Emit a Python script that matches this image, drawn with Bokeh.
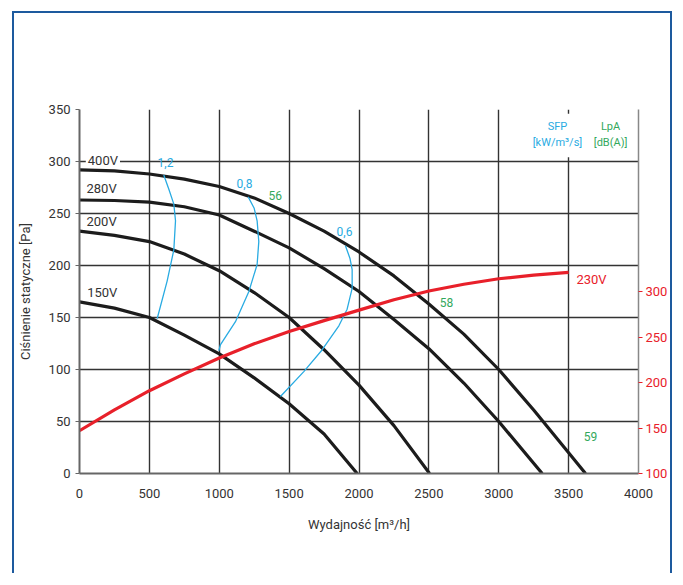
from bokeh.plotting import figure
from bokeh.models import Range1d, LinearAxis, FixedTicker, Label
from bokeh.embed import file_html
from bokeh.resources import INLINE

# ---- data ----
flow_400 = [0, 250, 500, 750, 1000, 1250, 1500, 1750, 2000, 2250, 2500, 2750, 3000, 3250, 3500, 3621]
pres_400 = [292, 291, 288, 283, 276, 265, 250, 233, 213, 190, 163, 134, 100, 61, 20, 0]

flow_280 = [0, 250, 500, 750, 1000, 1250, 1500, 1750, 2000, 2250, 2500, 2750, 3000, 3311]
pres_280 = [263, 262.5, 261, 256.5, 248.5, 233, 217, 197, 175, 148, 120, 87, 50, 0]

flow_200 = [0, 250, 500, 750, 1000, 1250, 1500, 1750, 2000, 2250, 2505]
pres_200 = [233, 229, 223, 211, 195, 174, 150, 119, 85, 46, 0]

flow_150 = [0, 250, 500, 750, 1000, 1250, 1500, 1750, 1987]
pres_150 = [165, 159, 150, 133, 115, 92, 67, 38, 0]

flow_230 = [0, 250, 500, 750, 1000, 1250, 1500, 1750, 2000, 2250, 2500, 2750, 3000, 3250, 3500]
power_230 = [147, 170, 191, 209.5, 227, 242.5, 256, 268, 279.5, 291, 300.5, 308, 314, 318, 321]

sfp12_x = [603, 640, 675, 687, 675, 627, 556]
sfp12_y = [287, 273, 259, 243, 215, 185, 149]
sfp08_x = [1207, 1250, 1271, 1283, 1271, 1212, 1116, 1009, 997]
sfp08_y = [266, 255, 243, 223, 201, 175, 146, 124, 118]
sfp06_x = [1903, 1935, 1951, 1951, 1915, 1856, 1737, 1605, 1438]
sfp06_y = [219, 207, 196, 178, 158, 142, 119, 98, 74]

x_ticks = [0, 500, 1000, 1500, 2000, 2500, 3000, 3500, 4000]
y_ticks = [0, 50, 100, 150, 200, 250, 300, 350]
w_ticks = [100, 150, 200, 250, 300]

FONT = "Roboto"
BLACK = "#1c1c1c"
RED = "#e8202a"
BLUE = "#29abe2"
GREEN = "#33a85c"
TXT = "#333333"

p = figure(frame_width=559, frame_height=364,
           x_range=Range1d(0, 4000), y_range=Range1d(0, 350),
           output_backend="svg", toolbar_location=None,
           min_border_left=65, min_border_right=31,
           min_border_top=96, min_border_bottom=100)
p.styles = {"margin-left": "12px", "margin-top": "11px",
            "border-left": "2px solid #1d5a9e", "border-top": "2px solid #1d5a9e",
            "border-right": "2px solid #1d5a9e"}
p.outline_line_color = None
p.extra_y_ranges = {"w": Range1d(100, 500)}

# axes
p.xaxis.ticker = FixedTicker(ticks=x_ticks)
p.yaxis.ticker = FixedTicker(ticks=y_ticks)
for ax in (p.xaxis[0], p.yaxis[0]):
    ax.axis_line_color = "#666666"
    ax.axis_line_width = 2
    ax.major_label_text_font = FONT
    ax.major_label_text_font_size = "13px"
    ax.major_label_text_color = TXT
    ax.axis_label_text_font = FONT
    ax.axis_label_text_font_size = "13px"
    ax.axis_label_text_font_style = "normal"
    ax.axis_label_text_color = TXT
    ax.minor_tick_line_color = None
p.xaxis.major_tick_line_color = None
p.xaxis.major_label_standoff = 9
p.xaxis.axis_label = "Wydajność [m³/h]"
p.xaxis.axis_label_standoff = 16
p.yaxis.major_tick_in = 0
p.yaxis.major_tick_out = 4
p.yaxis.major_tick_line_color = "#666666"
p.yaxis.major_label_standoff = 5
p.yaxis.axis_label = "Ciśnienie statyczne [Pa]"
p.yaxis.axis_label_standoff = 13

raxis = LinearAxis(y_range_name="w", ticker=FixedTicker(ticks=w_ticks))
raxis.axis_line_color = "#888888"
raxis.axis_line_width = 1.5
raxis.major_tick_in = 0
raxis.major_tick_out = 4
raxis.major_tick_line_color = RED
raxis.minor_tick_line_color = None
raxis.major_label_text_color = RED
raxis.major_label_text_font = FONT
raxis.major_label_text_font_size = "13px"
raxis.major_label_standoff = 3
p.add_layout(raxis, "right")

# grid
p.xgrid.ticker = FixedTicker(ticks=x_ticks)
p.ygrid.ticker = FixedTicker(ticks=y_ticks)
p.grid.grid_line_color = "#333333"
p.grid.grid_line_width = 1.4
p.grid.grid_line_alpha = 1

# white mask behind the SFP / LpA header
p.quad(left=[3150], right=[3995], bottom=[304], top=[346],
       fill_color="white", line_color=None)

# fan curves
for fx, fy in ((flow_400, pres_400), (flow_280, pres_280),
               (flow_200, pres_200), (flow_150, pres_150)):
    p.line(fx, fy, line_color=BLACK, line_width=3.2, line_join="round")

# SFP lines
for sx, sy in ((sfp12_x, sfp12_y), (sfp08_x, sfp08_y), (sfp06_x, sfp06_y)):
    p.line(sx, sy, line_color=BLUE, line_width=1.3, line_join="round")

# power curve
p.line(flow_230, power_230, y_range_name="w", line_color=RED, line_width=3.2,
       line_join="round")


def lab(x, y, text, color, size="13px", align="center", bg=None):
    l = Label(x=x, y=y, text=text, text_color=color, text_font=FONT,
              text_font_size=size, text_align=align, text_baseline="middle")
    if bg:
        l.background_fill_color = bg
        l.border_line_color = None
        l.padding = 2
        l.level = "underlay"
    p.add_layout(l)


lab(1875, 415, "RF/4-315T", "#2b2b2b", size="18px")
lab(45, 301, "400V", TXT, align="left", bg="white")
lab(50, 274, "280V", TXT, align="left")
lab(50, 242, "200V", TXT, align="left")
lab(55, 174, "150V", TXT, align="left")
lab(615, 299, "1,2", BLUE, size="12px")
lab(1181, 279, "0,8", BLUE, size="12px")
lab(1896, 233, "0,6", BLUE, size="12px")
lab(1400, 267, "56", GREEN, size="12px")
lab(2626, 164, "58", GREEN, size="12px")
lab(3657, 36, "59", GREEN, size="12px")
lab(3664, 186.5, "230V", RED, size="13px")
lab(3420, 333.5, "SFP", BLUE, size="11px")
lab(3420, 318, "[kW/m³/s]", BLUE, size="11px")
lab(3800, 333.5, "LpA", GREEN, size="11px")
lab(3800, 318, "[dB(A)]", GREEN, size="11px")
lab(4122, 348, "[W]", RED, size="12px")

open("out.html", "w").write(file_html(p, INLINE))
